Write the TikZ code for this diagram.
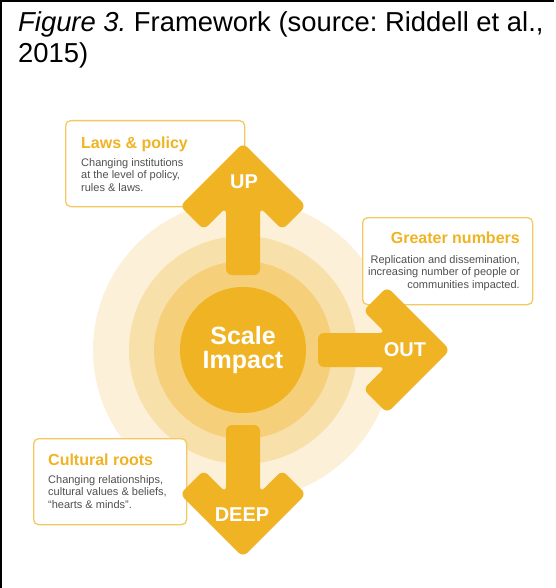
\documentclass[tikz,border=0pt]{standalone}
\usepackage{fontspec}
\setmainfont{Liberation Sans}
\usepackage{tikz}
\usetikzlibrary{positioning}
\frenchspacing

\definecolor{impactgold}{RGB}{240,179,35}
\definecolor{ringmid}{RGB}{245,207,122}
\definecolor{ringpale}{RGB}{248,224,170}
\definecolor{ringfaint}{RGB}{252,240,216}
\definecolor{boxedge}{RGB}{244,201,98}
\definecolor{bodygrey}{RGB}{80,80,80}

\tikzset{
  infobox/.style={draw=boxedge, line width=1.3pt, fill=white, rounded corners=5pt,
    anchor=north west, inner sep=0pt},
  boxtitle/.style={text=impactgold, font=\fontsize{16}{19}\selectfont\bfseries, inner sep=0pt},
  boxtext/.style={text=bodygrey, font=\fontsize{11}{12.5}\selectfont, inner sep=0pt},
  arrowlabel/.style={text=white, font=\fontsize{20}{24}\selectfont\bfseries, inner sep=0pt},
  impact arrow/.pic={
    \fill[impactgold, rounded corners=6pt] (-17,-75) -- (-17,-142.5) -- (-39.25,-120.25)
      -- (-63,-144) -- (0,-207) -- (63,-144) -- (39.25,-120.25) -- (17,-142.5)
      -- (17,-75) -- cycle;
  }
}

\begin{document}
\begin{tikzpicture}[x=1pt, y=-1pt]
    \useasboundingbox (0,0) rectangle (555,588);

    % Frame and caption
    \draw[line width=2pt] (1,588) -- (1,1) -- (554,1);
    \node[anchor=base west, inner sep=0pt, align=left,
      font=\fontsize{27.4}{31}\selectfont] (caption) at (18,63)
      {\textit{Figure 3.} Framework (source: Riddell et al.,\\2015)};

    % Rings
    \coordinate (centre) at (243,350);
    \fill[ringfaint] (centre) circle[radius=150pt];
    \fill[ringpale] (centre) circle[radius=114pt];
    \fill[ringmid] (centre) circle[radius=89pt];
    \node[circle, fill=impactgold, minimum size=126pt, inner sep=0pt, text=white, align=center,
      font=\fontsize{25}{24}\selectfont\bfseries] (scale) at (centre) {Scale\\Impact};

    % Laws & policy
    \node[infobox, minimum width=179pt, minimum height=86pt] (lawsbox) at (65,120) {};
    \node[boxtitle, anchor=base west] (lawstitle) at (81,149) {Laws \& policy};
    \node[boxtext, anchor=north west, align=left] (lawstext) at (81,158)
      {Changing institutions\\at the level of policy,\\rules \& laws.};

    % Greater numbers
    \node[infobox, minimum width=170pt, minimum height=87pt] (numbox) at (362,217) {};
    \node[boxtitle, anchor=base east] (numtitle) at (520,243) {Greater numbers};
    \node[boxtext, anchor=north east, align=right] (numtext) at (520,255)
      {Replication and dissemination,\\increasing number of people or\\communities impacted.};

    % Cultural roots
    \node[infobox, minimum width=153pt, minimum height=86pt] (rootbox) at (33,438) {};
    \node[boxtitle, anchor=base west] (roottitle) at (48,465) {Cultural roots};
    \node[boxtext, anchor=north west, align=left] (roottext) at (48,475)
      {Changing relationships,\\cultural values \& beliefs,\\``hearts \& minds''.};

    % Arrows
    \pic at (centre) {impact arrow};
    \pic[rotate=-90] at (centre) {impact arrow};
    \pic[rotate=180] at (centre) {impact arrow};
    \node[arrowlabel] (up) at (244,182) {UP};
    \node[arrowlabel] (out) at (405,350) {OUT};
    \node[arrowlabel] (deep) at (242,515) {DEEP};

\end{tikzpicture}
\end{document}
